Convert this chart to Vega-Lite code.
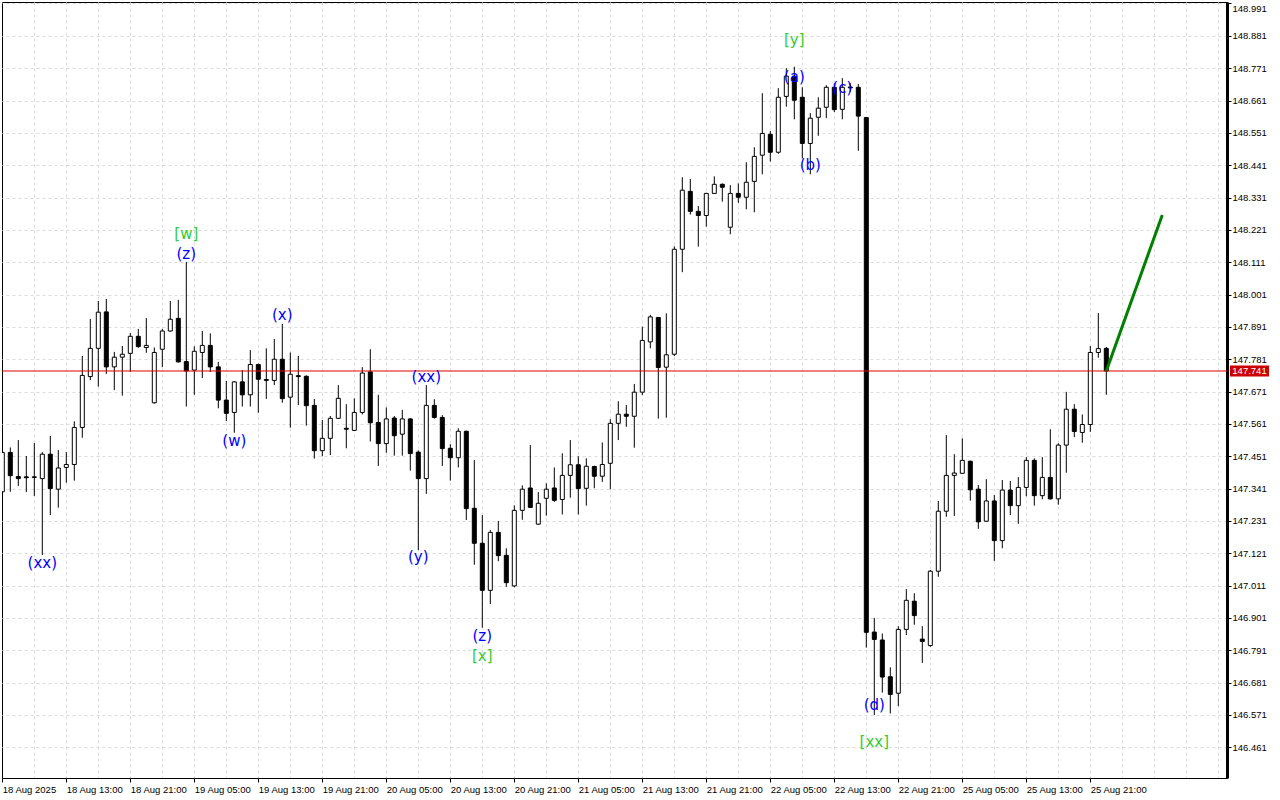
{
  "$schema": "https://vega.github.io/schema/vega-lite/v6.json",
  "width": 1225,
  "height": 776,
  "autosize": "none",
  "padding": {"left": 2, "top": 2, "right": 53, "bottom": 22},
  "background": "white",
  "config": {
    "view": {"stroke": "black", "strokeWidth": 1},
    "font": "Liberation Sans",
    "axis": {"labelOverlap": false, "labelBound": false, "labelFlush": false, "title": null},
    "scale": {"continuousPadding": 0}
  },
  "datasets": {
    "candles": [
      {"i":0,"o":147.330,"h":147.479,"l":147.319,"c":147.464},
      {"i":1,"o":147.464,"h":147.481,"l":147.330,"c":147.385},
      {"i":2,"o":147.382,"h":147.506,"l":147.350,"c":147.375},
      {"i":3,"o":147.381,"h":147.452,"l":147.329,"c":147.378},
      {"i":4,"o":147.381,"h":147.496,"l":147.316,"c":147.379},
      {"i":5,"o":147.375,"h":147.465,"l":147.115,"c":147.458},
      {"i":6,"o":147.458,"h":147.520,"l":147.251,"c":147.341},
      {"i":7,"o":147.339,"h":147.472,"l":147.276,"c":147.411},
      {"i":8,"o":147.413,"h":147.465,"l":147.361,"c":147.423},
      {"i":9,"o":147.423,"h":147.570,"l":147.368,"c":147.549},
      {"i":10,"o":147.549,"h":147.792,"l":147.514,"c":147.726},
      {"i":11,"o":147.722,"h":147.918,"l":147.710,"c":147.818},
      {"i":12,"o":147.818,"h":147.979,"l":147.688,"c":147.941},
      {"i":13,"o":147.942,"h":147.986,"l":147.731,"c":147.755},
      {"i":14,"o":147.755,"h":147.806,"l":147.676,"c":147.788},
      {"i":15,"o":147.788,"h":147.826,"l":147.657,"c":147.798},
      {"i":16,"o":147.801,"h":147.870,"l":147.738,"c":147.859},
      {"i":17,"o":147.859,"h":147.884,"l":147.820,"c":147.824},
      {"i":18,"o":147.821,"h":147.921,"l":147.803,"c":147.828},
      {"i":19,"o":147.633,"h":147.821,"l":147.630,"c":147.804},
      {"i":20,"o":147.815,"h":147.884,"l":147.754,"c":147.877},
      {"i":21,"o":147.877,"h":147.979,"l":147.875,"c":147.917},
      {"i":22,"o":147.920,"h":147.983,"l":147.770,"c":147.772},
      {"i":23,"o":147.773,"h":148.112,"l":147.620,"c":147.741},
      {"i":24,"o":147.744,"h":147.825,"l":147.660,"c":147.808},
      {"i":25,"o":147.804,"h":147.877,"l":147.717,"c":147.828},
      {"i":26,"o":147.828,"h":147.869,"l":147.738,"c":147.755},
      {"i":27,"o":147.755,"h":147.772,"l":147.614,"c":147.642},
      {"i":28,"o":147.642,"h":147.707,"l":147.571,"c":147.597},
      {"i":29,"o":147.600,"h":147.707,"l":147.531,"c":147.704},
      {"i":30,"o":147.704,"h":147.744,"l":147.620,"c":147.660},
      {"i":31,"o":147.660,"h":147.812,"l":147.620,"c":147.763},
      {"i":32,"o":147.763,"h":147.766,"l":147.599,"c":147.713},
      {"i":33,"o":147.712,"h":147.818,"l":147.646,"c":147.709},
      {"i":34,"o":147.709,"h":147.850,"l":147.693,"c":147.781},
      {"i":35,"o":147.781,"h":147.901,"l":147.633,"c":147.647},
      {"i":36,"o":147.652,"h":147.804,"l":147.548,"c":147.730},
      {"i":37,"o":147.725,"h":147.792,"l":147.625,"c":147.722},
      {"i":38,"o":147.723,"h":147.726,"l":147.555,"c":147.623},
      {"i":39,"o":147.624,"h":147.646,"l":147.443,"c":147.470},
      {"i":40,"o":147.470,"h":147.574,"l":147.451,"c":147.512},
      {"i":41,"o":147.512,"h":147.588,"l":147.455,"c":147.580},
      {"i":42,"o":147.580,"h":147.693,"l":147.578,"c":147.648},
      {"i":43,"o":147.546,"h":147.628,"l":147.478,"c":147.543},
      {"i":44,"o":147.539,"h":147.648,"l":147.537,"c":147.600},
      {"i":45,"o":147.600,"h":147.754,"l":147.593,"c":147.734},
      {"i":46,"o":147.738,"h":147.815,"l":147.501,"c":147.565},
      {"i":47,"o":147.566,"h":147.660,"l":147.418,"c":147.494},
      {"i":48,"o":147.494,"h":147.617,"l":147.463,"c":147.578},
      {"i":49,"o":147.581,"h":147.588,"l":147.453,"c":147.521},
      {"i":50,"o":147.526,"h":147.609,"l":147.453,"c":147.578},
      {"i":51,"o":147.578,"h":147.580,"l":147.402,"c":147.460},
      {"i":52,"o":147.465,"h":147.471,"l":147.132,"c":147.375},
      {"i":53,"o":147.375,"h":147.693,"l":147.323,"c":147.624},
      {"i":54,"o":147.624,"h":147.645,"l":147.579,"c":147.583},
      {"i":55,"o":147.583,"h":147.591,"l":147.418,"c":147.477},
      {"i":56,"o":147.478,"h":147.492,"l":147.368,"c":147.446},
      {"i":57,"o":147.446,"h":147.546,"l":147.413,"c":147.536},
      {"i":58,"o":147.536,"h":147.538,"l":147.234,"c":147.273},
      {"i":59,"o":147.274,"h":147.438,"l":147.082,"c":147.155},
      {"i":60,"o":147.155,"h":147.251,"l":146.868,"c":146.995},
      {"i":61,"o":146.995,"h":147.200,"l":146.948,"c":147.192},
      {"i":62,"o":147.192,"h":147.231,"l":147.094,"c":147.113},
      {"i":63,"o":147.114,"h":147.138,"l":147.007,"c":147.021},
      {"i":64,"o":147.010,"h":147.284,"l":147.005,"c":147.267},
      {"i":65,"o":147.267,"h":147.352,"l":147.235,"c":147.339},
      {"i":66,"o":147.343,"h":147.489,"l":147.275,"c":147.277},
      {"i":67,"o":147.220,"h":147.329,"l":147.218,"c":147.291},
      {"i":68,"o":147.308,"h":147.359,"l":147.249,"c":147.339},
      {"i":69,"o":147.343,"h":147.413,"l":147.296,"c":147.301},
      {"i":70,"o":147.304,"h":147.461,"l":147.253,"c":147.386},
      {"i":71,"o":147.386,"h":147.506,"l":147.310,"c":147.422},
      {"i":72,"o":147.422,"h":147.451,"l":147.253,"c":147.341},
      {"i":73,"o":147.342,"h":147.444,"l":147.283,"c":147.417},
      {"i":74,"o":147.416,"h":147.419,"l":147.342,"c":147.383},
      {"i":75,"o":147.383,"h":147.498,"l":147.364,"c":147.423},
      {"i":76,"o":147.427,"h":147.577,"l":147.339,"c":147.563},
      {"i":77,"o":147.563,"h":147.638,"l":147.506,"c":147.594},
      {"i":78,"o":147.594,"h":147.625,"l":147.551,"c":147.587},
      {"i":79,"o":147.587,"h":147.697,"l":147.480,"c":147.669},
      {"i":80,"o":147.669,"h":147.892,"l":147.659,"c":147.845},
      {"i":81,"o":147.840,"h":147.932,"l":147.818,"c":147.925},
      {"i":82,"o":147.923,"h":147.925,"l":147.579,"c":147.753},
      {"i":83,"o":147.754,"h":147.937,"l":147.582,"c":147.796},
      {"i":84,"o":147.798,"h":148.165,"l":147.792,"c":148.155},
      {"i":85,"o":148.155,"h":148.400,"l":148.077,"c":148.356},
      {"i":86,"o":148.352,"h":148.394,"l":148.273,"c":148.284},
      {"i":87,"o":148.284,"h":148.302,"l":148.164,"c":148.270},
      {"i":88,"o":148.270,"h":148.347,"l":148.232,"c":148.345},
      {"i":89,"o":148.345,"h":148.403,"l":148.343,"c":148.376},
      {"i":90,"o":148.376,"h":148.379,"l":148.317,"c":148.366},
      {"i":91,"o":148.230,"h":148.373,"l":148.206,"c":148.345},
      {"i":92,"o":148.345,"h":148.379,"l":148.313,"c":148.332},
      {"i":93,"o":148.332,"h":148.451,"l":148.291,"c":148.383},
      {"i":94,"o":148.386,"h":148.502,"l":148.281,"c":148.471},
      {"i":95,"o":148.475,"h":148.686,"l":148.410,"c":148.549},
      {"i":96,"o":148.546,"h":148.557,"l":148.453,"c":148.485},
      {"i":97,"o":148.485,"h":148.703,"l":148.480,"c":148.672},
      {"i":98,"o":148.675,"h":148.771,"l":148.640,"c":148.744},
      {"i":99,"o":148.744,"h":148.776,"l":148.597,"c":148.662},
      {"i":100,"o":148.672,"h":148.706,"l":148.464,"c":148.515},
      {"i":101,"o":148.515,"h":148.618,"l":148.410,"c":148.601},
      {"i":102,"o":148.604,"h":148.672,"l":148.541,"c":148.635},
      {"i":103,"o":148.638,"h":148.713,"l":148.601,"c":148.706},
      {"i":104,"o":148.706,"h":148.720,"l":148.622,"c":148.630},
      {"i":105,"o":148.631,"h":148.737,"l":148.597,"c":148.706},
      {"i":106,"o":148.707,"h":148.720,"l":148.691,"c":148.704},
      {"i":107,"o":148.706,"h":148.717,"l":148.490,"c":148.608},
      {"i":108,"o":148.603,"h":148.605,"l":146.800,"c":146.852},
      {"i":109,"o":146.853,"h":146.901,"l":146.571,"c":146.828},
      {"i":110,"o":146.826,"h":146.848,"l":146.647,"c":146.700},
      {"i":111,"o":146.701,"h":146.733,"l":146.576,"c":146.641},
      {"i":112,"o":146.645,"h":146.873,"l":146.601,"c":146.862},
      {"i":113,"o":146.862,"h":146.999,"l":146.843,"c":146.961},
      {"i":114,"o":146.958,"h":146.985,"l":146.878,"c":146.909},
      {"i":115,"o":146.829,"h":146.873,"l":146.748,"c":146.821},
      {"i":116,"o":146.807,"h":147.064,"l":146.803,"c":147.060},
      {"i":117,"o":147.060,"h":147.299,"l":147.041,"c":147.264},
      {"i":118,"o":147.264,"h":147.523,"l":147.245,"c":147.386},
      {"i":119,"o":147.386,"h":147.458,"l":147.248,"c":147.394},
      {"i":120,"o":147.393,"h":147.512,"l":147.391,"c":147.437},
      {"i":121,"o":147.434,"h":147.436,"l":147.300,"c":147.337},
      {"i":122,"o":147.339,"h":147.353,"l":147.204,"c":147.228},
      {"i":123,"o":147.230,"h":147.373,"l":147.228,"c":147.299},
      {"i":124,"o":147.299,"h":147.319,"l":147.095,"c":147.164},
      {"i":125,"o":147.164,"h":147.370,"l":147.138,"c":147.336},
      {"i":126,"o":147.336,"h":147.367,"l":147.251,"c":147.283},
      {"i":127,"o":147.283,"h":147.380,"l":147.221,"c":147.345},
      {"i":128,"o":147.345,"h":147.448,"l":147.315,"c":147.437},
      {"i":129,"o":147.437,"h":147.444,"l":147.283,"c":147.317},
      {"i":130,"o":147.317,"h":147.448,"l":147.305,"c":147.379},
      {"i":131,"o":147.379,"h":147.543,"l":147.304,"c":147.306},
      {"i":132,"o":147.306,"h":147.495,"l":147.286,"c":147.489},
      {"i":133,"o":147.489,"h":147.670,"l":147.395,"c":147.611},
      {"i":134,"o":147.611,"h":147.628,"l":147.516,"c":147.535},
      {"i":135,"o":147.532,"h":147.593,"l":147.497,"c":147.559},
      {"i":136,"o":147.559,"h":147.826,"l":147.534,"c":147.804},
      {"i":137,"o":147.804,"h":147.938,"l":147.786,"c":147.817},
      {"i":138,"o":147.818,"h":147.823,"l":147.660,"c":147.741}
    ],
    "forecast": [
      {"i":138,"p":147.741},
      {"i":145,"p":148.272}
    ],
    "waves": [
      {"i":5,"p":147.088,"t":"(xx)","k":"b"},
      {"i":23,"p":148.207,"t":"[w]","k":"g"},
      {"i":23,"p":148.139,"t":"(z)","k":"b"},
      {"i":29,"p":147.503,"t":"(w)","k":"b"},
      {"i":35,"p":147.931,"t":"(x)","k":"b"},
      {"i":53,"p":147.721,"t":"(xx)","k":"b"},
      {"i":52,"p":147.108,"t":"(y)","k":"b"},
      {"i":60,"p":146.840,"t":"(z)","k":"b"},
      {"i":60,"p":146.772,"t":"[x]","k":"g"},
      {"i":99,"p":148.867,"t":"[y]","k":"g"},
      {"i":99,"p":148.741,"t":"(a)","k":"b"},
      {"i":101,"p":148.442,"t":"(b)","k":"b"},
      {"i":105,"p":148.704,"t":"(c)","k":"b"},
      {"i":109,"p":146.605,"t":"(d)","k":"b"},
      {"i":109,"p":146.479,"t":"[xx]","k":"g"}
    ],
    "price": [
      {"p":147.741,"t":"147.741"}
    ]
  },
  "layer": [
    {
      "data": {"name": "candles"},
      "mark": {"type": "rule", "color": "black", "strokeWidth": 1, "clip": true},
      "encoding": {
        "x": {
          "field": "i", "type": "quantitative", "title": null,
          "scale": {"domain": [-0.0375, 153.0875], "nice": false, "zero": false, "padding": 0},
          "axis": {
            "orient": "bottom",
            "values": [0,4,8,12,16,20,24,28,32,36,40,44,48,52,56,60,64,68,72,76,80,84,88,92,96,100,104,108,112,116,120,124,128,132,136,140,144,148,152],
            "tickCount": 100,
            "labelExpr": "datum.value % 8 == 0 ? ['18 Aug 2025','18 Aug 13:00','18 Aug 21:00','19 Aug 05:00','19 Aug 13:00','19 Aug 21:00','20 Aug 05:00','20 Aug 13:00','20 Aug 21:00','21 Aug 05:00','21 Aug 13:00','21 Aug 21:00','22 Aug 05:00','22 Aug 13:00','22 Aug 21:00','25 Aug 05:00','25 Aug 13:00','25 Aug 21:00','',''][datum.value / 8] : ''",
            "labelAlign": "left",
            "labelBaseline": "top",
            "labelPadding": 2,
            "labelFlush": false,
            "labelOverlap": false,
            "labelBound": false,
            "labelFont": "Liberation Sans",
            "labelFontSize": 9.5,
            "labelColor": "black",
            "tickSize": 4,
            "tickColor": {"condition": {"test": "datum.value % 8 == 0 && datum.value <= 136", "value": "black"}, "value": "rgba(0,0,0,0)"},
            "domainColor": "black",
            "grid": true,
            "gridColor": {"condition": {"test": "datum.value == 0", "value": "rgba(0,0,0,0)"}, "value": "#dcdcdc"},
            "gridDash": [3, 3],
            "gridWidth": 1
          }
        },
        "y": {
          "field": "l", "type": "quantitative", "title": null,
          "scale": {"domain": [146.3566, 148.9961], "nice": false, "zero": false, "padding": 0},
          "axis": {
            "orient": "right",
            "values": [146.461,146.571,146.681,146.791,146.901,147.011,147.121,147.231,147.341,147.451,147.561,147.671,147.781,147.891,148.001,148.111,148.221,148.331,148.441,148.551,148.661,148.771,148.881,148.991],
            "tickCount": 100,
            "format": ".3f",
            "labelFont": "Liberation Sans",
            "labelFontSize": 9.5,
            "labelColor": "black",
            "labelPadding": 1,
            "labelBaseline": {"condition": {"test": "datum.value > 148.98", "value": "top"}, "value": "middle"},
            "labelOverlap": false,
            "labelBound": false,
            "labelFlush": false,
            "tickSize": 4,
            "tickColor": "black",
            "domainColor": "black",
            "domainWidth": 3,
            "grid": true,
            "gridColor": "#dcdcdc",
            "gridDash": [3, 3],
            "gridWidth": 1
          }
        },
        "y2": {"field": "h"}
      }
    },
    {
      "data": {"name": "candles"},
      "mark": {"type": "bar", "size": 4, "stroke": "black", "strokeWidth": 1, "clip": true},
      "encoding": {
        "x": {"field": "i", "type": "quantitative", "title": null},
        "y": {"field": "o", "type": "quantitative", "title": null},
        "y2": {"field": "c"},
        "fill": {"condition": {"test": "datum.c >= datum.o", "value": "white"}, "value": "black"}
      }
    },
    {
      "data": {"name": "price"},
      "mark": {"type": "rule", "color": "#e00000", "strokeWidth": 1},
      "encoding": {
        "y": {"field": "p", "type": "quantitative", "title": null}
      }
    },
    {
      "data": {"name": "forecast"},
      "mark": {"type": "line", "color": "#008000", "strokeWidth": 3, "clip": true},
      "encoding": {
        "x": {"field": "i", "type": "quantitative", "title": null},
        "y": {"field": "p", "type": "quantitative", "title": null}
      }
    },
    {
      "data": {"name": "waves"},
      "mark": {"type": "text", "font": "DejaVu Sans", "fontSize": 15, "align": "center", "baseline": "middle"},
      "encoding": {
        "x": {"field": "i", "type": "quantitative", "title": null},
        "y": {"field": "p", "type": "quantitative", "title": null},
        "text": {"field": "t"},
        "color": {"condition": {"test": "datum.k == 'g'", "value": "#33cc33"}, "value": "#0000ff"}
      }
    },
    {
      "data": {"name": "price"},
      "mark": {"type": "bar", "color": "#cc0000", "size": 11},
      "encoding": {
        "x": {"datum": 153.46, "type": "quantitative"},
        "x2": {"datum": 158.34},
        "y": {"field": "p", "type": "quantitative", "title": null}
      }
    },
    {
      "data": {"name": "price"},
      "mark": {"type": "text", "color": "white", "font": "Liberation Sans", "fontSize": 9.5, "align": "center", "baseline": "middle"},
      "encoding": {
        "x": {"datum": 155.9, "type": "quantitative"},
        "y": {"field": "p", "type": "quantitative", "title": null},
        "text": {"field": "t"}
      }
    }
  ]
}
